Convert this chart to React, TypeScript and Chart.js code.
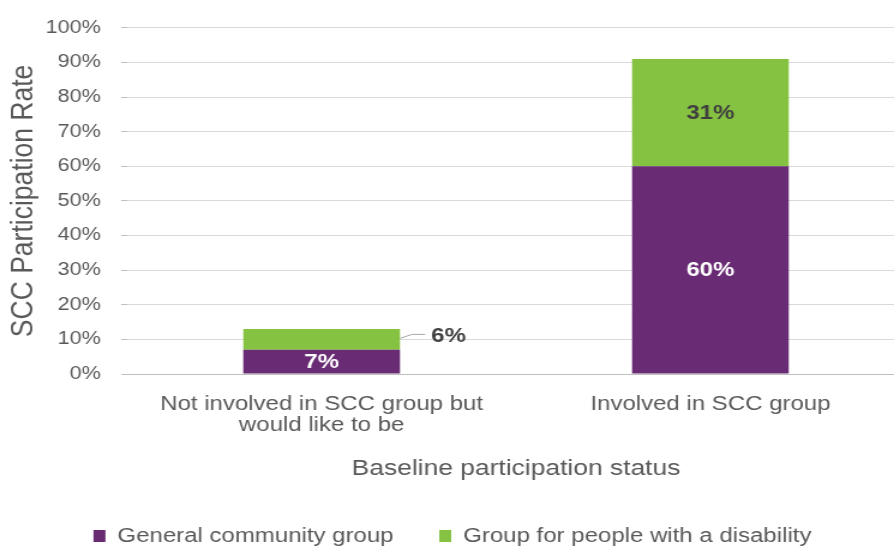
import React, { useEffect, useRef } from "react";
import { Chart, registerables } from "chart.js";

Chart.register(...registerables);

const categories = [["Not involved in SCC group but", "would like to be"], "Involved in SCC group"];
const generalCommunity = [7, 60];
const disabilityGroup = [6, 31];
const seriesNames = ["General community group", "Group for people with a disability"];
const seriesColors = ["#692B74", "#85C241"];
const labelColors = ["#FFFFFF", "#404040"];
const yAxisTitle = "SCC Participation Rate";
const xAxisTitle = "Baseline participation status";

const FONT = "'Liberation Sans', Arial, sans-serif";
const STRETCH = 1.2;
const CW = 760;
const CH = 547;

const barLabels = {
  id: "barLabels",
  afterDatasetsDraw(chart: any) {
    const ctx = chart.ctx;
    ctx.save();
    ctx.font = "bold 20px " + FONT;
    chart.data.datasets.forEach((ds: any, di: number) => {
      const meta = chart.getDatasetMeta(di);
      meta.data.forEach((bar: any, i: number) => {
        const v = ds.data[i];
        const { x, y, base, width } = bar.getProps(["x", "y", "base", "width"], true);
        const h = Math.abs(base - y);
        const cy = (y + base) / 2;
        const text = v + "%";
        if (h < 22.5) {
          const sx = x + width / 2;
          ctx.strokeStyle = "#A6A6A6";
          ctx.lineWidth = 1;
          ctx.beginPath();
          ctx.moveTo(sx, cy - 1);
          ctx.lineTo(sx + 10, cy - 5);
          ctx.lineTo(sx + 21, cy - 5);
          ctx.stroke();
          ctx.fillStyle = "#404040";
          ctx.textAlign = "left";
          ctx.textBaseline = "middle";
          ctx.fillText(text, sx + 26, cy - 3);
        } else {
          ctx.fillStyle = labelColors[di];
          ctx.textAlign = "center";
          ctx.textBaseline = "middle";
          ctx.fillText(text, x, cy + 1);
        }
      });
    });
    ctx.restore();
  },
};

export default function App() {
  const ref = useRef<HTMLCanvasElement | null>(null);
  useEffect(() => {
    if (!ref.current) return;
    const chart = new Chart(ref.current, {
      type: "bar",
      data: {
        labels: categories as any,
        datasets: [
          {
            label: seriesNames[0],
            data: generalCommunity,
            backgroundColor: seriesColors[0],
            borderWidth: 0,
            barPercentage: 0.403,
            categoryPercentage: 1,
          },
          {
            label: seriesNames[1],
            data: disabilityGroup,
            backgroundColor: seriesColors[1],
            borderWidth: 0,
            barPercentage: 0.403,
            categoryPercentage: 1,
          },
        ],
      },
      options: {
        responsive: false,
        animation: false,
        devicePixelRatio: 1,
        layout: { padding: { top: 23, right: 6, bottom: 0, left: 0 } },
        plugins: {
          legend: {
            position: "bottom",
            maxHeight: 59,
            labels: {
              boxWidth: 10,
              boxHeight: 12,
              padding: 38,
              color: "#595959",
              font: { size: 20, family: FONT },
            },
          },
          tooltip: { enabled: false },
        },
        scales: {
          x: {
            stacked: true,
            afterFit: (s: any) => {
              s.height = 114;
            },
            grid: { display: false, drawTicks: false, tickLength: 0 },
            border: { display: false },
            ticks: {
              color: "#595959",
              padding: 20,
              font: { size: 20, family: FONT, lineHeight: 1.05 },
            },
            title: {
              display: true,
              text: xAxisTitle,
              color: "#595959",
              font: { size: 22, family: FONT },
              padding: { top: 0, bottom: 6 },
            },
          },
          y: {
            stacked: true,
            min: 0,
            max: 100,
            afterFit: (s: any) => {
              s.width = 106;
            },
            ticks: {
              stepSize: 10,
              callback: (v: any) => v + "%",
              color: "#595959",
              padding: 17,
              font: { size: 18, family: FONT },
            },
            grid: {
              color: (c: any) => (c.tick && c.tick.value === 0 ? "#BFBFBF" : "#D9D9D9"),
              tickColor: "#BFBFBF",
              tickLength: 5,
            },
            border: { display: false },
            title: {
              display: true,
              text: yAxisTitle,
              color: "#595959",
              font: { size: 26.5, family: FONT, lineHeight: 0.9 },
              padding: { top: 8, bottom: 0 },
            },
          },
        },
      },
      plugins: [barLabels],
    } as any);
    return () => chart.destroy();
  }, []);

  return (
    <div
      style={{
        position: "fixed",
        left: 0,
        top: 0,
        width: 894,
        height: CH,
        overflow: "hidden",
        background: "#FFFFFF",
      }}
    >
      <canvas
        ref={ref}
        width={CW}
        height={CH}
        style={{ width: CW * STRETCH + "px", height: CH + "px", display: "block" }}
      />
    </div>
  );
}
